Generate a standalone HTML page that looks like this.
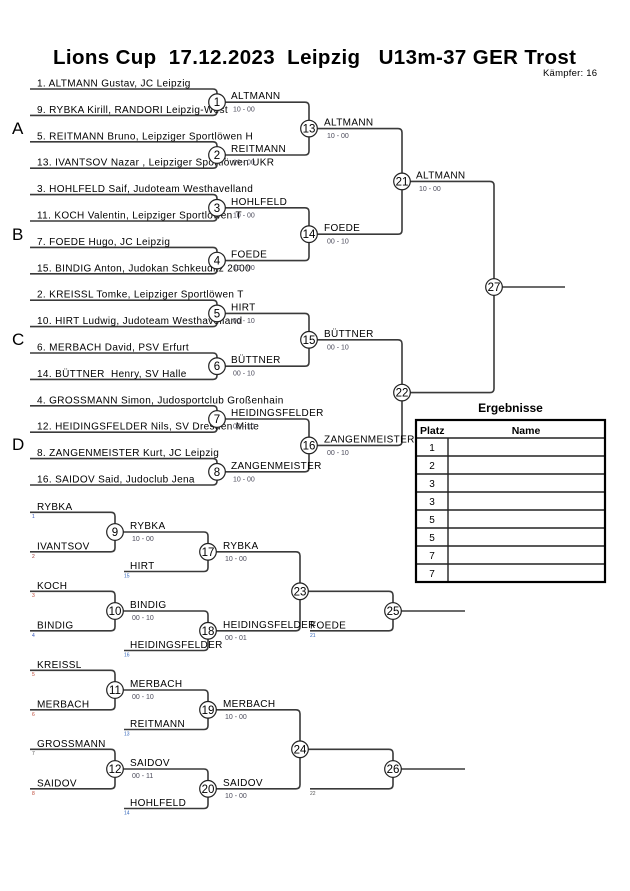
<!DOCTYPE html>
<html><head><meta charset="utf-8"><style>
html,body{margin:0;padding:0;background:#fff;}
svg{display:block;}
.t{font-family:"Liberation Sans",Arial,sans-serif;font-size:10px;letter-spacing:0.35px;fill:#000;}
.s{font-family:"Liberation Sans",Arial,sans-serif;font-size:7px;fill:#4a4a5a;}
.n{font-family:"Liberation Sans",Arial,sans-serif;font-size:5px;}
.c{font-family:"Liberation Sans",Arial,sans-serif;font-size:11.5px;text-anchor:middle;fill:#000;}
.g{font-family:"Liberation Sans",Arial,sans-serif;font-size:17px;fill:#000;}
.l{fill:none;stroke:#3a3a3a;stroke-width:1.6;}
.ci{fill:#fff;stroke:#222;stroke-width:1.2;}
</style></head><body>
<svg width="630" height="891" viewBox="0 0 630 891" xmlns="http://www.w3.org/2000/svg">
<rect width="630" height="891" fill="#fff"/>
<text x="53" y="64" font-family="Liberation Sans, Arial, sans-serif" font-size="20.5" font-weight="bold" textLength="523" lengthAdjust="spacing" xml:space="preserve">Lions Cup  17.12.2023  Leipzig   U13m-37 GER Trost</text>
<text x="543" y="76" font-family="Liberation Sans, Arial, sans-serif" font-size="9.5" textLength="54" lengthAdjust="spacing">Kämpfer: 16</text>

<text class="g" x="12" y="134">A</text>
<text class="g" x="12" y="240">B</text>
<text class="g" x="12" y="345">C</text>
<text class="g" x="12" y="450">D</text>

<path class="l" d="M30 89 H213 Q217 89 217 93 V111.4 Q217 115.4 213 115.4 H30"/>
<path class="l" d="M30 141.8 H213 Q217 141.8 217 145.8 V164.2 Q217 168.2 213 168.2 H30"/>
<path class="l" d="M30 194.6 H213 Q217 194.6 217 198.6 V217 Q217 221 213 221 H30"/>
<path class="l" d="M30 247.4 H213 Q217 247.4 217 251.4 V269.8 Q217 273.8 213 273.8 H30"/>
<path class="l" d="M30 300.2 H213 Q217 300.2 217 304.2 V322.6 Q217 326.6 213 326.6 H30"/>
<path class="l" d="M30 353 H213 Q217 353 217 357 V375.4 Q217 379.4 213 379.4 H30"/>
<path class="l" d="M30 405.8 H213 Q217 405.8 217 409.8 V428.2 Q217 432.2 213 432.2 H30"/>
<path class="l" d="M30 458.6 H213 Q217 458.6 217 462.6 V481 Q217 485 213 485 H30"/>
<path class="l" d="M217 102.2 H305 Q309 102.2 309 106.2 V151 Q309 155 305 155 H217"/>
<path class="l" d="M217 207.8 H305 Q309 207.8 309 211.8 V256.6 Q309 260.6 305 260.6 H217"/>
<path class="l" d="M217 313.4 H305 Q309 313.4 309 317.4 V362.2 Q309 366.2 305 366.2 H217"/>
<path class="l" d="M217 419 H305 Q309 419 309 423 V467.8 Q309 471.8 305 471.8 H217"/>
<path class="l" d="M309 128.6 H398 Q402 128.6 402 132.6 V230.2 Q402 234.2 398 234.2 H309"/>
<path class="l" d="M309 339.8 H398 Q402 339.8 402 343.8 V441.4 Q402 445.4 398 445.4 H309"/>
<path class="l" d="M402 181.4 H490 Q494 181.4 494 185.4 V388.6 Q494 392.6 490 392.6 H402"/>
<path class="l" d="M494 287 H565"/>

<text class="t" x="37" y="86.5">1. ALTMANN Gustav, JC Leipzig</text>
<text class="t" x="37" y="112.9">9. RYBKA Kirill, RANDORI Leipzig-West</text>
<text class="t" x="37" y="139.3">5. REITMANN Bruno, Leipziger Sportlöwen H</text>
<text class="t" x="37" y="165.7">13. IVANTSOV Nazar , Leipziger Sportlöwen UKR</text>
<text class="t" x="37" y="192.1">3. HOHLFELD Saif, Judoteam Westhavelland</text>
<text class="t" x="37" y="218.5">11. KOCH Valentin, Leipziger Sportlöwen T</text>
<text class="t" x="37" y="244.9">7. FOEDE Hugo, JC Leipzig</text>
<text class="t" x="37" y="271.3">15. BINDIG Anton, Judokan Schkeuditz 2000</text>
<text class="t" x="37" y="297.7">2. KREISSL Tomke, Leipziger Sportlöwen T</text>
<text class="t" x="37" y="324.1">10. HIRT Ludwig, Judoteam Westhavelland</text>
<text class="t" x="37" y="350.5">6. MERBACH David, PSV Erfurt</text>
<text class="t" x="37" y="376.9" xml:space="preserve">14. BÜTTNER  Henry, SV Halle</text>
<text class="t" x="37" y="403.3">4. GROSSMANN Simon, Judosportclub Großenhain</text>
<text class="t" x="37" y="429.7">12. HEIDINGSFELDER Nils, SV Dresden Mitte</text>
<text class="t" x="37" y="456.1">8. ZANGENMEISTER Kurt, JC Leipzig</text>
<text class="t" x="37" y="482.5">16. SAIDOV Said, Judoclub Jena</text>

<text class="t" x="231" y="99.2">ALTMANN</text><text class="s" x="233" y="111.7">10 - 00</text>
<text class="t" x="231" y="152">REITMANN</text><text class="s" x="233" y="164.5">10 - 00</text>
<text class="t" x="231" y="204.8">HOHLFELD</text><text class="s" x="233" y="217.3">10 - 00</text>
<text class="t" x="231" y="257.6">FOEDE</text><text class="s" x="233" y="270.1">10 - 00</text>
<text class="t" x="231" y="310.4">HIRT</text><text class="s" x="233" y="322.9">00 - 10</text>
<text class="t" x="231" y="363.2">BÜTTNER</text><text class="s" x="233" y="375.7">00 - 10</text>
<text class="t" x="231" y="416">HEIDINGSFELDER</text><text class="s" x="233" y="428.5">00 - 10</text>
<text class="t" x="231" y="468.8">ZANGENMEISTER</text><text class="s" x="233" y="481.3">10 - 00</text>
<text class="t" x="324" y="125.6">ALTMANN</text><text class="s" x="327" y="138">10 - 00</text>
<text class="t" x="324" y="231.2">FOEDE</text><text class="s" x="327" y="243.7">00 - 10</text>
<text class="t" x="324" y="336.8">BÜTTNER</text><text class="s" x="327" y="349.3">00 - 10</text>
<text class="t" x="324" y="442.4">ZANGENMEISTER</text><text class="s" x="327" y="454.9">00 - 10</text>
<text class="t" x="416" y="178.4">ALTMANN</text><text class="s" x="419" y="190.9">10 - 00</text>

<g>
<circle class="ci" cx="217" cy="102.2" r="8.3"/><text class="c" x="217" y="106.2">1</text>
<circle class="ci" cx="217" cy="155" r="8.3"/><text class="c" x="217" y="159">2</text>
<circle class="ci" cx="217" cy="207.8" r="8.3"/><text class="c" x="217" y="211.8">3</text>
<circle class="ci" cx="217" cy="260.6" r="8.3"/><text class="c" x="217" y="264.6">4</text>
<circle class="ci" cx="217" cy="313.4" r="8.3"/><text class="c" x="217" y="317.4">5</text>
<circle class="ci" cx="217" cy="366.2" r="8.3"/><text class="c" x="217" y="370.2">6</text>
<circle class="ci" cx="217" cy="419" r="8.3"/><text class="c" x="217" y="423">7</text>
<circle class="ci" cx="217" cy="471.8" r="8.3"/><text class="c" x="217" y="475.8">8</text>
<circle class="ci" cx="309" cy="128.6" r="8.3"/><text class="c" x="309" y="132.6">13</text>
<circle class="ci" cx="309" cy="234.2" r="8.3"/><text class="c" x="309" y="238.2">14</text>
<circle class="ci" cx="309" cy="339.8" r="8.3"/><text class="c" x="309" y="343.8">15</text>
<circle class="ci" cx="309" cy="445.4" r="8.3"/><text class="c" x="309" y="449.4">16</text>
<circle class="ci" cx="402" cy="181.4" r="8.3"/><text class="c" x="402" y="185.4">21</text>
<circle class="ci" cx="402" cy="392.6" r="8.3"/><text class="c" x="402" y="396.6">22</text>
<circle class="ci" cx="494" cy="287" r="8.3"/><text class="c" x="494" y="291">27</text>
</g>

<text x="510.5" y="412" text-anchor="middle" font-family="Liberation Sans, Arial, sans-serif" font-size="12" font-weight="bold">Ergebnisse</text>
<g stroke="#222" stroke-width="1.4" fill="none">
<line x1="416" y1="438" x2="605" y2="438"/>
<line x1="416" y1="456" x2="605" y2="456"/>
<line x1="416" y1="474" x2="605" y2="474"/>
<line x1="416" y1="492" x2="605" y2="492"/>
<line x1="416" y1="510" x2="605" y2="510"/>
<line x1="416" y1="528" x2="605" y2="528"/>
<line x1="416" y1="546" x2="605" y2="546"/>
<line x1="416" y1="564" x2="605" y2="564"/>
<line x1="448" y1="438" x2="448" y2="582"/>
</g>
<rect x="416" y="420" width="189" height="162" fill="none" stroke="#000" stroke-width="2.2"/>
<text x="420" y="434" font-family="Liberation Sans, Arial, sans-serif" font-size="10.5" font-weight="bold">Platz</text>
<text x="526" y="434" text-anchor="middle" font-family="Liberation Sans, Arial, sans-serif" font-size="10.5" font-weight="bold">Name</text>
<g font-family="Liberation Sans, Arial, sans-serif" font-size="10" text-anchor="middle">
<text x="432" y="451">1</text>
<text x="432" y="469">2</text>
<text x="432" y="487">3</text>
<text x="432" y="505">3</text>
<text x="432" y="523">5</text>
<text x="432" y="541">5</text>
<text x="432" y="559">7</text>
<text x="432" y="577">7</text>
</g>

<path class="l" d="M30 512.3 H111 Q115 512.3 115 516.3 V547.8 Q115 551.8 111 551.8 H30"/>
<path class="l" d="M115 532 H204 Q208 532 208 536 V567.5 Q208 571.5 204 571.5 H124"/>
<path class="l" d="M30 591.3 H111 Q115 591.3 115 595.3 V626.8 Q115 630.8 111 630.8 H30"/>
<path class="l" d="M115 611 H204 Q208 611 208 615 V646.5 Q208 650.5 204 650.5 H124"/>
<path class="l" d="M208 551.8 H296 Q300 551.8 300 555.8 V626.8 Q300 630.8 296 630.8 H208"/>
<path class="l" d="M300 591.3 H389 Q393 591.3 393 595.3 V626.8 Q393 630.8 389 630.8 H310"/>
<path class="l" d="M393 611 H465"/>
<path class="l" d="M30 670.3 H111 Q115 670.3 115 674.3 V705.8 Q115 709.8 111 709.8 H30"/>
<path class="l" d="M115 690 H204 Q208 690 208 694 V725.5 Q208 729.5 204 729.5 H124"/>
<path class="l" d="M30 749.3 H111 Q115 749.3 115 753.3 V784.8 Q115 788.8 111 788.8 H30"/>
<path class="l" d="M115 769 H204 Q208 769 208 773 V804.5 Q208 808.5 204 808.5 H124"/>
<path class="l" d="M208 709.8 H296 Q300 709.8 300 713.8 V784.8 Q300 788.8 296 788.8 H208"/>
<path class="l" d="M300 749.3 H389 Q393 749.3 393 753.3 V784.8 Q393 788.8 389 788.8 H310"/>
<path class="l" d="M393 769 H465"/>

<text class="t" x="37" y="509.8">RYBKA</text>
<text class="t" x="37" y="549.3">IVANTSOV</text>
<text class="t" x="37" y="588.8">KOCH</text>
<text class="t" x="37" y="628.3">BINDIG</text>
<text class="t" x="37" y="667.8">KREISSL</text>
<text class="t" x="37" y="707.3">MERBACH</text>
<text class="t" x="37" y="746.8">GROSSMANN</text>
<text class="t" x="37" y="786.3">SAIDOV</text>
<text class="t" x="130" y="569">HIRT</text>
<text class="t" x="130" y="648">HEIDINGSFELDER</text>
<text class="t" x="130" y="727">REITMANN</text>
<text class="t" x="130" y="806">HOHLFELD</text>
<text class="t" x="310" y="628.3">FOEDE</text>

<text class="t" x="130" y="529">RYBKA</text><text class="s" x="132" y="541">10 - 00</text>
<text class="t" x="223" y="548.8">RYBKA</text><text class="s" x="225" y="561">10 - 00</text>
<text class="t" x="130" y="608">BINDIG</text><text class="s" x="132" y="620">00 - 10</text>
<text class="t" x="223" y="627.8">HEIDINGSFELDER</text><text class="s" x="225" y="640">00 - 01</text>
<text class="t" x="130" y="687">MERBACH</text><text class="s" x="132" y="699">00 - 10</text>
<text class="t" x="223" y="706.8">MERBACH</text><text class="s" x="225" y="719">10 - 00</text>
<text class="t" x="130" y="766">SAIDOV</text><text class="s" x="132" y="778">00 - 11</text>
<text class="t" x="223" y="785.8">SAIDOV</text><text class="s" x="225" y="798">10 - 00</text>

<text class="n" x="32" y="518" fill="#3355bb">1</text>
<text class="n" x="32" y="558" fill="#993333">2</text>
<text class="n" x="32" y="597" fill="#bb4433">3</text>
<text class="n" x="32" y="637" fill="#3355bb">4</text>
<text class="n" x="32" y="676" fill="#bb4433">5</text>
<text class="n" x="32" y="716" fill="#bb4433">6</text>
<text class="n" x="32" y="755" fill="#555">7</text>
<text class="n" x="32" y="795" fill="#bb4433">8</text>
<text class="n" x="124" y="577.5" fill="#3366bb">15</text>
<text class="n" x="124" y="656.5" fill="#3366bb">16</text>
<text class="n" x="124" y="735.5" fill="#3366bb">13</text>
<text class="n" x="124" y="814.5" fill="#3366bb">14</text>
<text class="n" x="310" y="637" fill="#3366bb">21</text>
<text class="n" x="310" y="795" fill="#555">22</text>

<g>
<circle class="ci" cx="115" cy="532" r="8.3"/><text class="c" x="115" y="536">9</text>
<circle class="ci" cx="115" cy="611" r="8.3"/><text class="c" x="115" y="615">10</text>
<circle class="ci" cx="115" cy="690" r="8.3"/><text class="c" x="115" y="694">11</text>
<circle class="ci" cx="115" cy="769" r="8.3"/><text class="c" x="115" y="773">12</text>
<circle class="ci" cx="208" cy="551.8" r="8.3"/><text class="c" x="208" y="555.8">17</text>
<circle class="ci" cx="208" cy="630.8" r="8.3"/><text class="c" x="208" y="634.8">18</text>
<circle class="ci" cx="208" cy="709.8" r="8.3"/><text class="c" x="208" y="713.8">19</text>
<circle class="ci" cx="208" cy="788.8" r="8.3"/><text class="c" x="208" y="792.8">20</text>
<circle class="ci" cx="300" cy="591.3" r="8.3"/><text class="c" x="300" y="595.3">23</text>
<circle class="ci" cx="300" cy="749.3" r="8.3"/><text class="c" x="300" y="753.3">24</text>
<circle class="ci" cx="393" cy="611" r="8.3"/><text class="c" x="393" y="615">25</text>
<circle class="ci" cx="393" cy="769" r="8.3"/><text class="c" x="393" y="773">26</text>
</g>
</svg>
</body></html>
